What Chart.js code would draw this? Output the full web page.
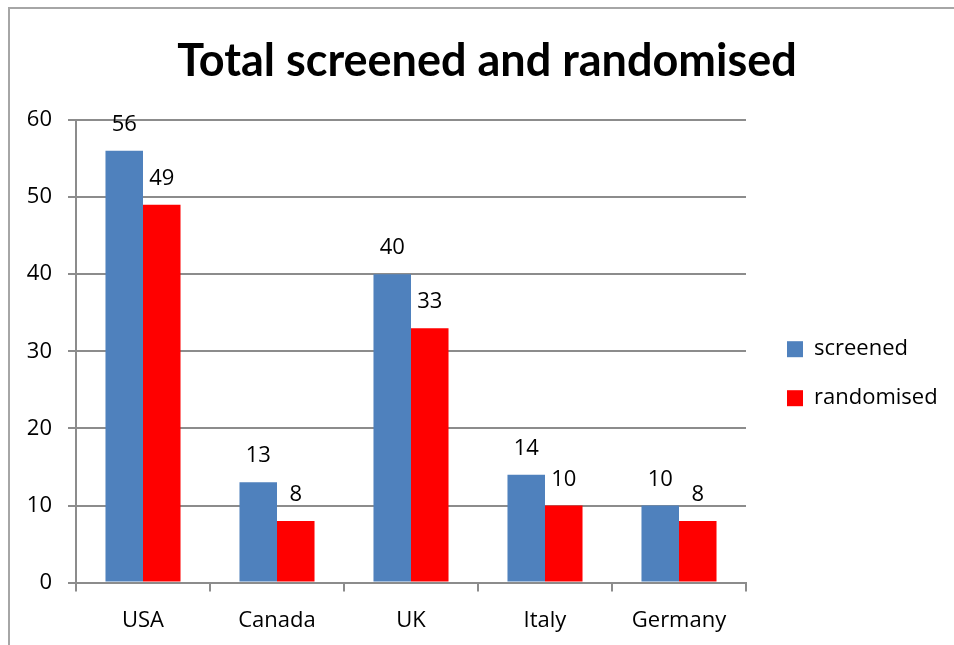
<!DOCTYPE html>
<html>
<head>
<meta charset="utf-8">
<script src="https://cdn.jsdelivr.net/npm/chart.js@4.4.0/dist/chart.umd.min.js"></script>
<style>
  html, body { margin: 0; padding: 0; background: #fff; }
  #wrap { position: relative; width: 954px; height: 645px; overflow: hidden; }
  #frame {
    position: absolute; left: 8px; top: 7px; width: 1000px; height: 700px;
    border-left: 2px solid #a6a6a6; border-top: 2px solid #a6a6a6;
  }
  canvas { position: absolute; left: 0; top: 0; }
</style>
</head>
<body>
<div id="wrap">
  <div id="frame"></div>
  <canvas id="myChart" width="954" height="645"></canvas>
</div>
<script>
const countries = ['USA', 'Canada', 'UK', 'Italy', 'Germany'];
const screened = [56, 13, 40, 14, 10];
const randomised = [49, 8, 33, 10, 8];
const yTicks = [0, 10, 20, 30, 40, 50, 60];

const FONT = '"Open Sans", sans-serif';
const TITLE_FONT = 'Lato, "Open Sans", sans-serif';

// value labels above each bar
const barLabels = {
  id: 'barLabels',
  afterDatasetsDraw(chart) {
    const ctx = chart.ctx;
    ctx.save();
    ctx.font = '22px ' + FONT;
    ctx.fillStyle = '#000';
    ctx.textAlign = 'center';
    ctx.textBaseline = 'alphabetic';
    chart.data.datasets.forEach((ds, i) => {
      chart.getDatasetMeta(i).data.forEach((bar, j) => {
        ctx.fillText(ds.data[j], bar.x, bar.y - 20);
      });
    });
    ctx.restore();
  }
};

// fixed legend column, items pushed a little to the right
const legendTweak = {
  id: 'legendTweak',
  afterInit(chart) {
    const lg = chart.legend;
    const fit = lg.fit;
    lg.fit = function () {
      fit.call(this);
      this.width = 208;
    };
    const draw = lg.draw;
    lg.draw = function (area) {
      const ctx = this.ctx;
      ctx.save();
      ctx.translate(14, 0);
      draw.call(this, area);
      ctx.restore();
    };
  }
};

const data = {
  labels: countries,
  datasets: [
    {
      label: 'screened',
      data: screened,
      backgroundColor: '#4f81bd',
      categoryPercentage: 0.56,
      barPercentage: 1.0
    },
    {
      label: 'randomised',
      data: randomised,
      backgroundColor: '#ff0000',
      categoryPercentage: 0.56,
      barPercentage: 1.0
    }
  ]
};

const config = {
  type: 'bar',
  data: data,
  options: {
    responsive: false,
    animation: false,
    layout: { padding: { left: 20, right: 0, top: 10, bottom: -5 } },
    plugins: {
      title: {
        display: true,
        text: 'Total screened and randomised',
        color: '#000',
        font: { family: TITLE_FONT, size: 45, weight: 'bold' },
        padding: { top: 24, bottom: 32 }
      },
      legend: {
        position: 'right',
        title: { display: true, text: '', padding: { top: 37, bottom: 36 } },
        labels: {
          color: '#000',
          font: { family: FONT, size: 22 },
          boxWidth: 16,
          boxHeight: 16,
          padding: 27
        }
      },
      tooltip: { enabled: false }
    },
    scales: {
      x: {
        grid: {
          offset: true,
          drawOnChartArea: false,
          drawTicks: true,
          tickLength: 9,
          color: '#8c8c8c',
          lineWidth: 2
        },
        border: { color: '#8c8c8c', width: 2 },
        ticks: { color: '#000', font: { family: FONT, size: 22 }, padding: 16 }
      },
      y: {
        min: 0,
        max: 60,
        afterBuildTicks(axis) {
          axis.ticks = yTicks.map(v => ({ value: v }));
        },
        afterFit(axis) {
          axis.width = 56;
        },
        grid: {
          color: '#8c8c8c',
          lineWidth: 2,
          tickLength: 8
        },
        border: { color: '#8c8c8c', width: 2 },
        ticks: { color: '#000', font: { family: FONT, size: 22 }, padding: 16 }
      }
    }
  },
  plugins: [barLabels, legendTweak]
};

new Chart(document.getElementById('myChart'), config);
</script>
</body>
</html>
